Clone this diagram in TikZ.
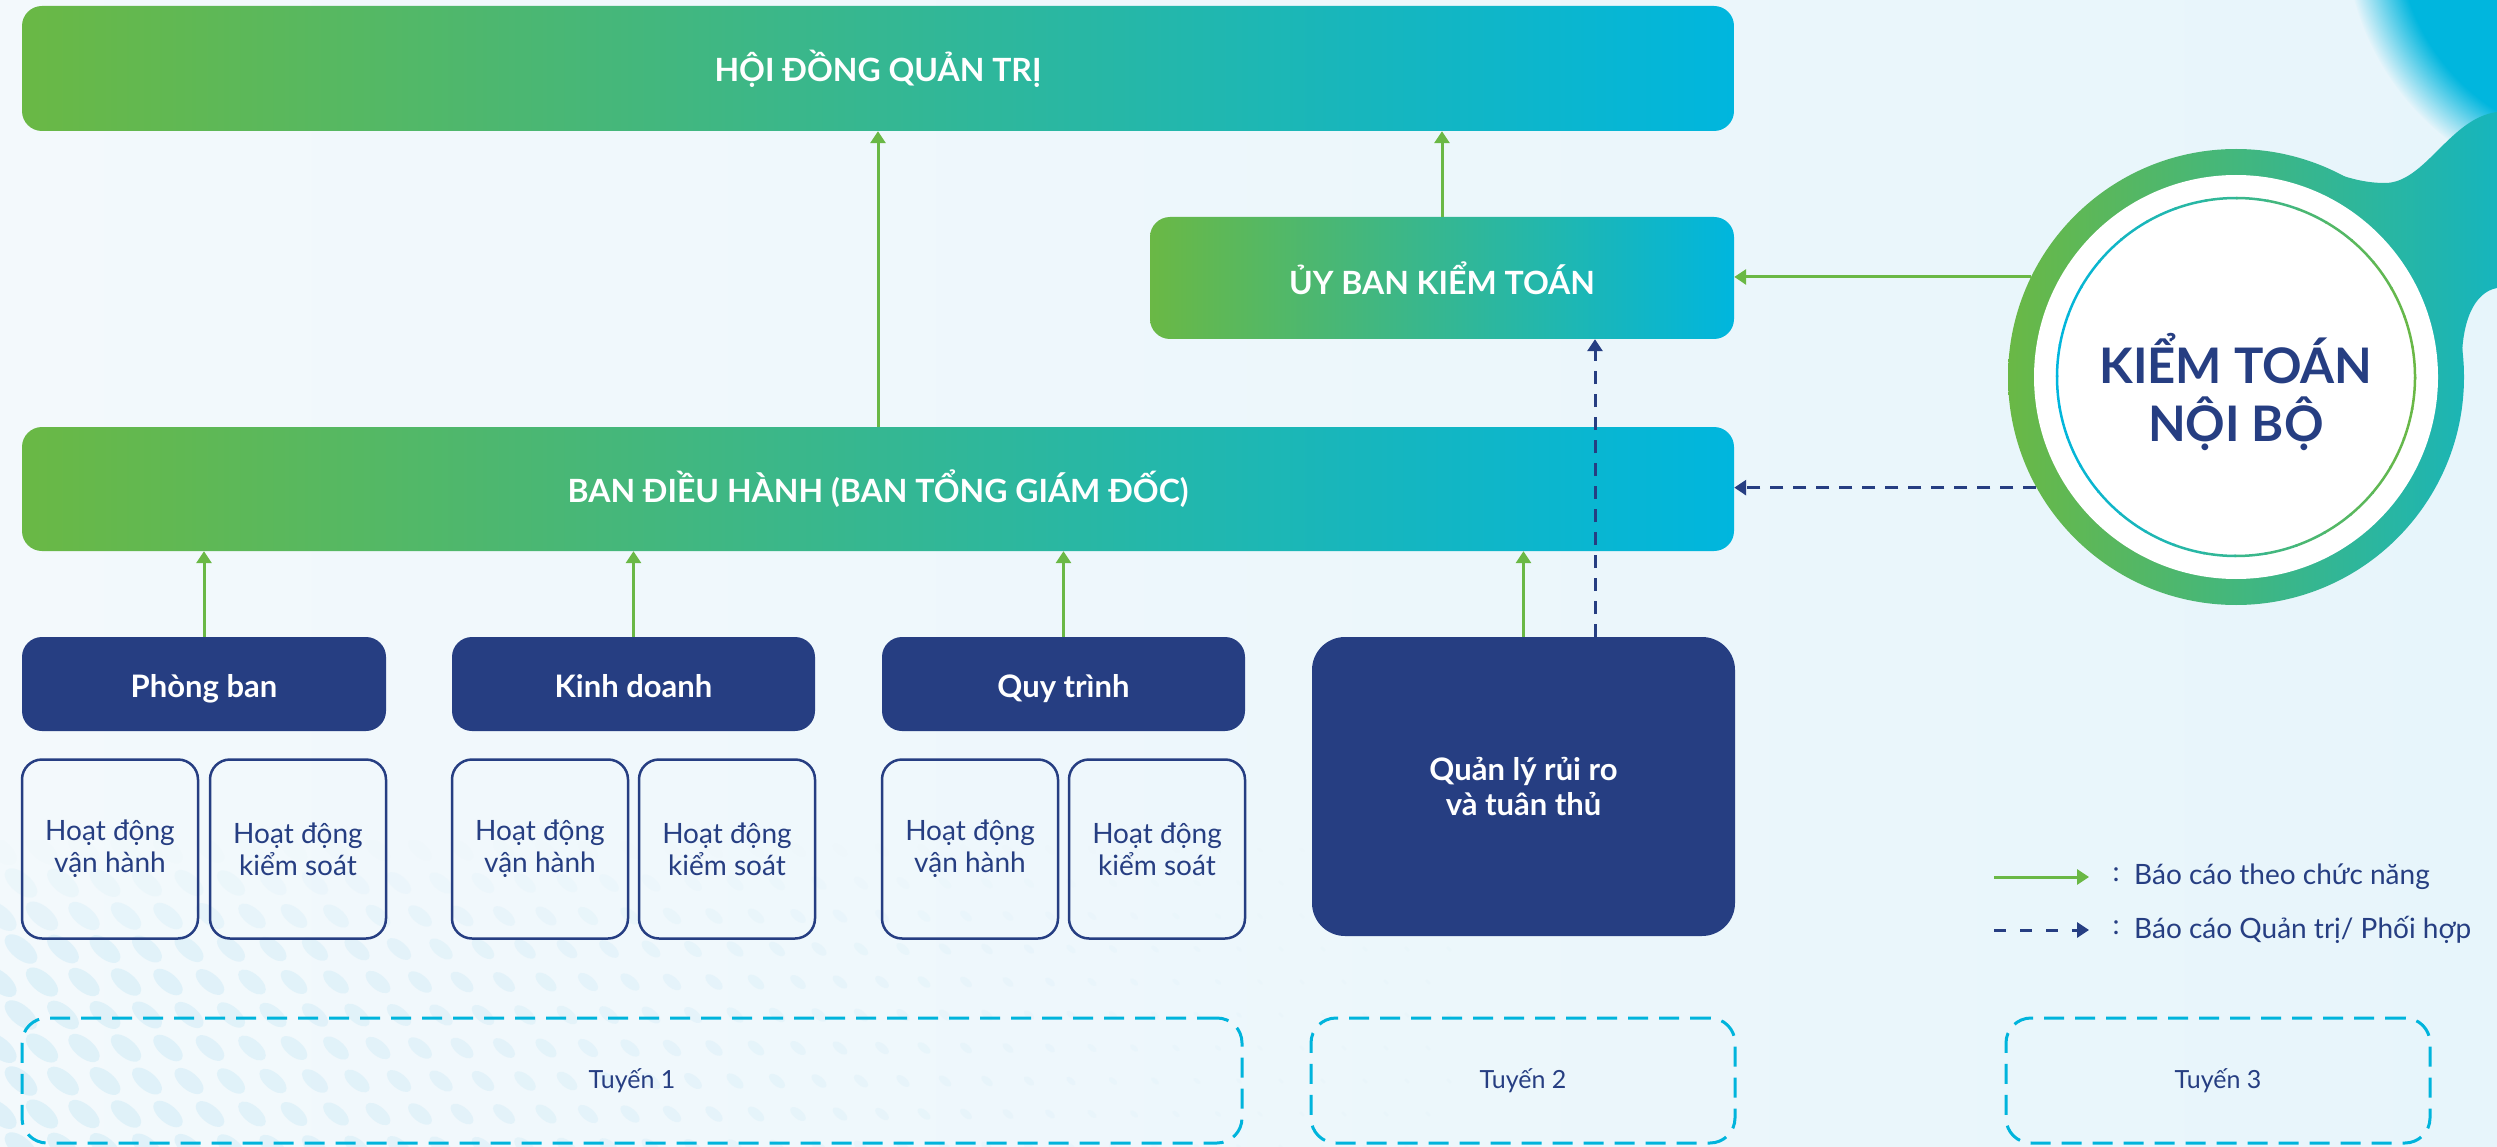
\documentclass[tikz,border=0pt]{standalone}
\usepackage{fontspec}
\setmainfont{Lato}
\usetikzlibrary{arrows.meta,fadings}
\definecolor{navy}{RGB}{38,62,130}
\definecolor{gA}{RGB}{106,184,69}
\definecolor{cA}{RGB}{0,182,222}
\definecolor{tA}{RGB}{22,181,189}
\definecolor{bgA}{RGB}{243,249,252}
\definecolor{bgB}{RGB}{231,245,251}
\definecolor{dotc}{RGB}{205,234,246}
\definecolor{dashc}{RGB}{0,180,220}
\tikzset{
 gbar/.style={left color=gA, right color=cA, rounded corners=20pt, inner sep=0pt, text=white, font=\bfseries\fontsize{32}{38}\selectfont},
 nbox/.style={fill=navy, rounded corners=20pt, inner sep=0pt, text=white, font=\bfseries\fontsize{31}{35}\selectfont, align=center},
 hbox/.style={nbox, minimum height=94pt, text height=30pt, text depth=4pt},
 obox/.style={draw=navy, line width=2.5pt, rounded corners=20pt, inner sep=0pt, text=navy, font=\fontsize{28}{32}\selectfont, align=center, minimum width=176pt, minimum height=179pt},
 tbox/.style={draw=dashc, line width=3pt, dash pattern=on 20pt off 11pt, rounded corners=25pt, inner sep=0pt, text=navy, font=\fontsize{25}{30}\selectfont, minimum width=424pt, minimum height=125pt},
 garrow/.style={draw=gA, line width=3pt, -{Triangle[width=15pt,length=12pt]}},
 narrow/.style={draw=navy, line width=3pt, dash pattern=on 13pt off 10pt, -{Triangle[width=15pt,length=12pt]}},
 legtext/.style={text=navy, font=\fontsize{28}{30}\selectfont, inner sep=0pt},
}
\begin{document}
\begin{tikzpicture}[x=1pt,y=-1pt]
\useasboundingbox (0,0) rectangle (2497,1147);
% background
\shade[left color=bgA, right color=bgB] (0,0) rectangle (2497,1147);
% faint halftone pattern bottom-left
\begin{scope}
\clip (0,840) rectangle (1500,1147);
\foreach \j in {0,...,9}{
  \foreach \i in {0,...,34}{
    \pgfmathsetmacro\xx{\i*42+mod(\j,2)*21}
    \pgfmathsetmacro\yy{850+\j*33}
    \pgfmathsetmacro\s{max(0.15,1-\xx/1500)}
    \pgfmathsetmacro\op{0.55*\s*min(1,(\yy-840)/120)}
    \fill[dotc, opacity=\op, rotate around={-40:(\xx,\yy)}] (\xx,\yy) ellipse ({20*\s} and {10*\s});
  }
}
\end{scope}
% glow top-right
\fill[cA, path fading=circle with fuzzy edge 20 percent] (2610,-70) circle (265);
% ring + bridge
\begin{scope}
\clip (2290,157) .. controls (2325,168) and (2350,183) .. (2385,183) .. controls (2425,183) and (2450,118) .. (2497,112) -- (2497,288) .. controls (2475,292) and (2460,320) .. (2462,372) -- (2236,377) -- cycle;
\shade[left color=gA, right color=tA] (2007,100) rectangle (2497,620);
\end{scope}
\begin{scope}
\clip (2236,377) circle (228);
\shade[left color=gA, right color=tA] (2007,100) rectangle (2497,620);
\end{scope}
\fill[white] (2236,377) circle (202);
\foreach \a in {0,10,...,350}{
  \pgfmathsetmacro\p{50+50*cos(\a+5)}
  \draw[gA!\p!cA, line width=2.5pt] ([shift={(2236,377)}]\a:179) arc[start angle=\a, end angle=\a+10.5, radius=179];
}
\node[circle, minimum size=456pt, inner sep=0pt] (kt) at (2236,377) {};
\node[text=navy, font=\bfseries\fontsize{49}{58}\selectfont, align=center, inner sep=0pt] (ktt) at (2236,392) {KIỂM TOÁN\\NỘI BỘ};

% bars
\node[gbar, minimum width=1712pt, minimum height=125pt] (hdqt) at (878,68.5) {HỘI ĐỒNG QUẢN TRỊ};
\node[gbar, minimum width=584pt, minimum height=122pt] (ub) at (1442,278) {ỦY BAN KIỂM TOÁN};
\node[gbar, minimum width=1712pt, minimum height=124pt] (bdh) at (878,489) {BAN ĐIỀU HÀNH (BAN TỔNG GIÁM ĐỐC)};

% navy boxes
\node[hbox, minimum width=364pt] (pb) at (204,684) {Phòng ban};
\node[hbox, minimum width=363pt] (kd) at (633.5,684) {Kinh doanh};
\node[hbox, minimum width=363pt] (qt) at (1063.5,684) {Quy trình};
\node[nbox, minimum width=423pt, minimum height=299pt, rounded corners=33pt] (ql) at (1523.5,786.5) {Quản lý rủi ro\\và tuân thủ};

% outline boxes
\node[obox] (a1) at (110,849) {Hoạt động\\vận hành};
\node[obox] (a2) at (298,849) {Hoạt động\\kiểm soát};
\node[obox] (b1) at (540,849) {Hoạt động\\vận hành};
\node[obox] (b2) at (727,849) {Hoạt động\\kiểm soát};
\node[obox] (c1) at (970,849) {Hoạt động\\vận hành};
\node[obox] (c2) at (1157,849) {Hoạt động\\kiểm soát};

% tuyen boxes
\node[tbox, minimum width=1220pt] (t1) at (632,1080.5) {Tuyến 1};
\node[tbox] (t2) at (1523,1080.5) {Tuyến 2};
\node[tbox] (t3) at (2218,1080.5) {Tuyến 3};

% arrows
\draw[garrow] (bdh.north) -- (hdqt.south);
\draw[garrow] (ub.north) -- (ub.north |- hdqt.south);
\draw[garrow] (pb.north) -- (pb.north |- bdh.south);
\draw[garrow] (kd.north) -- (kd.north |- bdh.south);
\draw[garrow] (qt.north) -- (qt.north |- bdh.south);
\draw[garrow] (ql.north) -- (ql.north |- bdh.south);
\coordinate (qd) at (1595,637);
\draw[narrow] (qd) -- (qd |- ub.south);
\draw[garrow] (kt.154.27) -- (kt.154.27 -| ub.east);
\draw[narrow] (kt.209.4) -- (kt.209.4 -| bdh.east);

% legend
\coordinate (l1a) at (1994,877);
\coordinate (l1b) at (2089,877);
\coordinate (l2a) at (1994,930);
\coordinate (l2b) at (2089,930);
\draw[garrow] (l1a) -- (l1b);
\draw[narrow, dash pattern=on 12pt off 14pt] (l2a) -- (l2b);
\node[legtext] (c1l) at (2116,875) {:};
\node[legtext] (c2l) at (2116,928) {:};
\node[legtext, anchor=west] (lg1) at (2134,877) {Báo cáo theo chức năng};
\node[legtext, anchor=west] (lg2) at (2134,930) {Báo cáo Quản trị/ Phối hợp};
\end{tikzpicture}
\end{document}
